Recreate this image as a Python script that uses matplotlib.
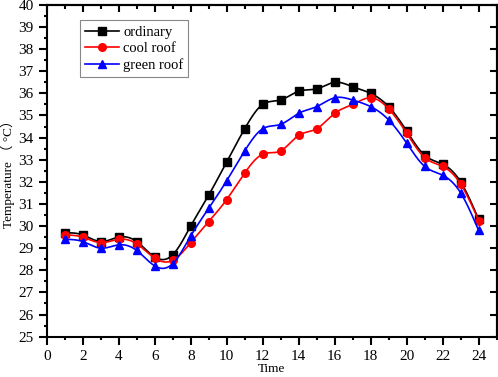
import numpy as np
import matplotlib
matplotlib.use("Agg")
import matplotlib.pyplot as plt
from matplotlib.ticker import MultipleLocator, NullFormatter

hours = list(range(1, 25))
ordinary = [29.7, 29.6, 29.3, 29.5, 29.3, 28.6, 28.7, 30.0, 31.4, 32.9, 34.4, 35.5,
            35.7, 36.1, 36.2, 36.5, 36.3, 36.0, 35.4, 34.3, 33.2, 32.8, 32.0, 30.3]
cool_roof = [29.6, 29.5, 29.25, 29.4, 29.2, 28.55, 28.45, 29.25, 30.2, 31.2, 32.4, 33.25,
             33.4, 34.1, 34.4, 35.1, 35.5, 35.8, 35.3, 34.2, 33.1, 32.7, 31.9, 30.25]
green_roof = [29.4, 29.3, 29.0, 29.15, 28.9, 28.2, 28.3, 29.55, 30.8, 32.05, 33.4, 34.4,
              34.6, 35.1, 35.4, 35.8, 35.7, 35.4, 34.8, 33.75, 32.7, 32.3, 31.5, 29.8]
labels = ["ordinary", "cool roof", "green roof"]


def natural_spline(x, y, xs):
    x = np.asarray(x, float); y = np.asarray(y, float)
    n = len(x)
    h = np.diff(x)
    A = np.zeros((n, n)); b = np.zeros(n)
    A[0, 0] = 1; A[-1, -1] = 1
    for i in range(1, n - 1):
        A[i, i - 1] = h[i - 1]
        A[i, i] = 2 * (h[i - 1] + h[i])
        A[i, i + 1] = h[i]
        b[i] = 6 * ((y[i + 1] - y[i]) / h[i] - (y[i] - y[i - 1]) / h[i - 1])
    M = np.linalg.solve(A, b)
    idx = np.clip(np.searchsorted(x, xs) - 1, 0, n - 2)
    x0 = x[idx]; x1 = x[idx + 1]; hh = x1 - x0
    t0 = x1 - xs; t1 = xs - x0
    return (M[idx] * t0 ** 3 / (6 * hh) + M[idx + 1] * t1 ** 3 / (6 * hh)
            + (y[idx] / hh - M[idx] * hh / 6) * t0
            + (y[idx + 1] / hh - M[idx + 1] * hh / 6) * t1)


plt.rcParams['font.family'] = ['Liberation Serif', 'Noto Sans CJK SC', 'DejaVu Sans']

fig = plt.figure(figsize=(4.98, 3.77), dpi=100)
ax = fig.add_axes([0.0938, 0.107, 0.9035, 0.880])

xs = np.linspace(1, 24, 600)
series = [(ordinary, 'black', 's'), (cool_roof, 'red', 'o'), (green_roof, 'blue', '^')]
for (vals, col, mk), lab in zip(series, labels):
    ax.plot(xs, natural_spline(hours, vals, xs), color=col, lw=1.2)
    ax.plot(hours, vals, linestyle='none', marker=mk, color=col, markersize=5.5)
    ax.plot([], [], color=col, lw=1.2, marker=mk, markersize=5.5, label=lab)

ax.set_xlim(0, 25)
ax.set_ylim(25, 40)
ax.xaxis.set_major_locator(MultipleLocator(2))
ax.xaxis.set_minor_locator(MultipleLocator(1))
ax.yaxis.set_major_locator(MultipleLocator(1))
ax.yaxis.set_minor_locator(MultipleLocator(0.5))
ax.tick_params(which='both', direction='out', labelsize=11, width=1.5)
ax.tick_params(which='major', length=6)
ax.tick_params(which='minor', length=2.5)
for s in ax.spines.values():
    s.set_linewidth(1.5)

# inward ticks on top and right
top = ax.secondary_xaxis('top')
top.xaxis.set_major_locator(MultipleLocator(2))
top.xaxis.set_minor_locator(MultipleLocator(1))
top.xaxis.set_major_formatter(NullFormatter())
top.tick_params(which='both', direction='in', width=1.5)
top.tick_params(which='major', length=5)
top.tick_params(which='minor', length=3)
top.spines['top'].set_linewidth(1.5)
right = ax.secondary_yaxis('right')
right.yaxis.set_major_locator(MultipleLocator(1))
right.yaxis.set_minor_locator(MultipleLocator(0.5))
right.yaxis.set_major_formatter(NullFormatter())
right.tick_params(which='both', direction='in', width=1.5)
right.tick_params(which='major', length=5)
right.tick_params(which='minor', length=0)
right.spines['right'].set_linewidth(1.5)

ax.set_xlabel("Time", fontsize=9.5, labelpad=0)
ax.set_ylabel("Temperature （ °C）", fontsize=9.5, labelpad=2)

leg = ax.legend(loc='upper left', bbox_to_anchor=(0.074, 0.953), borderaxespad=0,
                fontsize=10.5, fancybox=False, framealpha=1, edgecolor='#888888',
                handlelength=2.3, handletextpad=0.3, labelspacing=0.2, borderpad=0.35)
leg.get_frame().set_linewidth(0.8)

fig.savefig("out.png", dpi=100)
